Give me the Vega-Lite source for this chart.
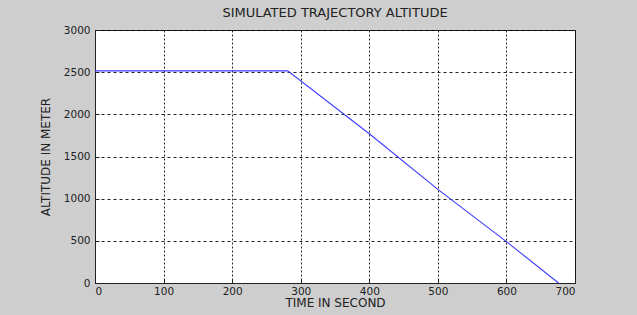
{
  "$schema": "https://vega.github.io/schema/vega-lite/v6.json",
  "autosize": {"type": "none"},
  "width": 480,
  "height": 253,
  "padding": {"left": 95, "top": 30, "right": 62, "bottom": 32},
  "background": "#cecece",
  "config": {
    "view": {"fill": "white", "stroke": "#222222", "strokeWidth": 1},
    "font": "DejaVu Sans"
  },
  "title": {
    "text": "SIMULATED TRAJECTORY ALTITUDE",
    "font": "DejaVu Sans",
    "fontSize": 13,
    "fontWeight": "normal",
    "color": "#222222",
    "offset": 5
  },
  "data": {
    "values": [
      {"time": 0, "altitude": 2515},
      {"time": 281, "altitude": 2515},
      {"time": 400, "altitude": 1770},
      {"time": 500, "altitude": 1110},
      {"time": 600, "altitude": 490},
      {"time": 676, "altitude": 0}
    ]
  },
  "mark": {"type": "line", "color": "#3b3bff", "strokeWidth": 1.1},
  "encoding": {
    "x": {
      "field": "time",
      "type": "quantitative",
      "scale": {"domain": [0, 700], "nice": false},
      "axis": {
        "title": "TIME IN SECOND",
        "values": [0, 100, 200, 300, 400, 500, 600, 700],
        "format": "d",
        "grid": true,
        "gridColor": "#000000",
        "gridDash": [2, 2],
        "gridOpacity": 0.85,
        "domainColor": "#222222",
        "tickColor": "#222222",
        "tickSize": -4,
        "labelPadding": 7,
        "labelFont": "DejaVu Sans",
        "labelFontSize": 10.5,
        "labelColor": "#222222",
        "titleFont": "DejaVu Sans",
        "titleFontSize": 12,
        "titleFontWeight": "normal",
        "titleColor": "#222222",
        "titlePadding": 1
      }
    },
    "y": {
      "field": "altitude",
      "type": "quantitative",
      "scale": {"domain": [0, 3000], "nice": false},
      "axis": {
        "title": "ALTITUDE IN METER",
        "values": [0, 500, 1000, 1500, 2000, 2500, 3000],
        "format": "d",
        "grid": true,
        "gridColor": "#000000",
        "gridDash": [3, 3],
        "gridOpacity": 0.85,
        "domainColor": "#222222",
        "tickColor": "#222222",
        "tickSize": -4,
        "labelPadding": 9,
        "labelFont": "DejaVu Sans",
        "labelFontSize": 10.5,
        "labelColor": "#222222",
        "titleFont": "DejaVu Sans",
        "titleFontSize": 12,
        "titleFontWeight": "normal",
        "titleColor": "#222222",
        "titlePadding": 11
      }
    }
  }
}
